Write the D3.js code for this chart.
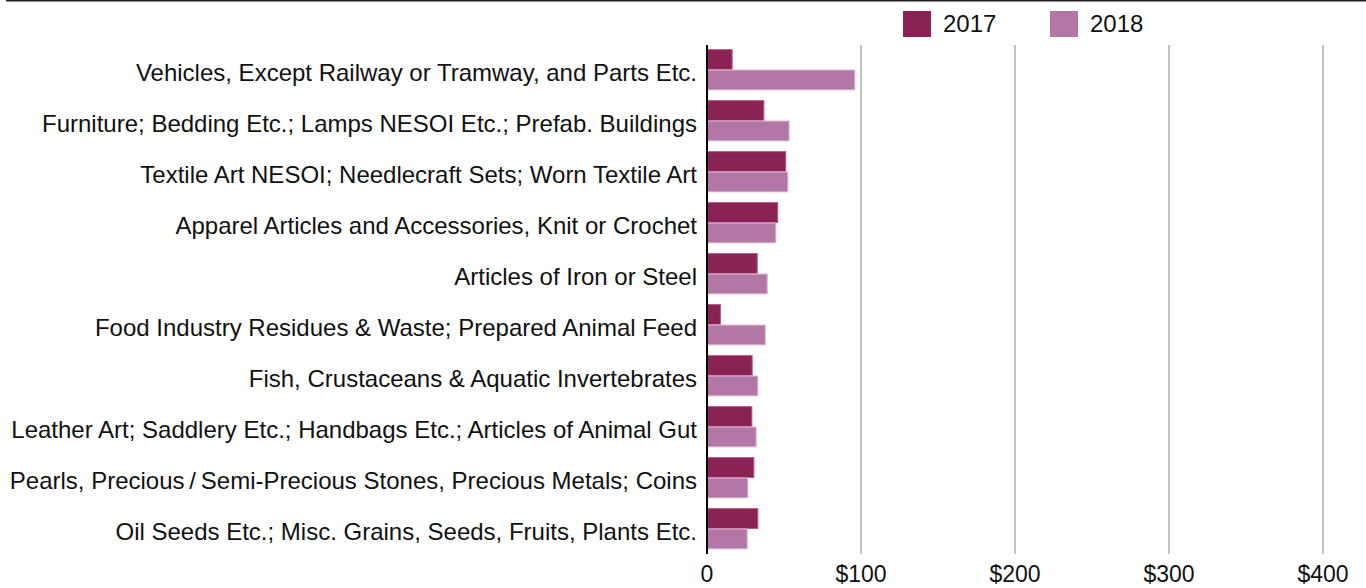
<!DOCTYPE html>
<html>
<head>
<meta charset="utf-8">
<script src="https://cdn.jsdelivr.net/npm/d3@7"></script>
<style>
  body { margin: 0; background: #fff; }
  svg { display: block; font-family: "Liberation Sans", Arial, sans-serif; }
</style>
</head>
<body>
<div id="chart"></div>
<script>
// categories, top to bottom
let categories = [
    "Vehicles, Except Railway or Tramway, and Parts Etc.",
    "Furniture; Bedding Etc.; Lamps NESOI Etc.; Prefab. Buildings",
    "Textile Art NESOI; Needlecraft Sets; Worn Textile Art",
    "Apparel Articles and Accessories, Knit or Crochet",
    "Articles of Iron or Steel",
    "Food Industry Residues & Waste; Prepared Animal Feed",
    "Fish, Crustaceans & Aquatic Invertebrates",
    "Leather Art; Saddlery Etc.; Handbags Etc.; Articles of Animal Gut",
    "Pearls, Precious\u2009/\u2009Semi-Precious Stones, Precious Metals; Coins",
    "Oil Seeds Etc.; Misc. Grains, Seeds, Fruits, Plants Etc."
];
let years = ["2017", "2018"];
let values2017 = [16, 36.6, 50.8, 45.6, 32.3, 8.4, 29.0, 28.8, 30.1, 32.7];
let values2018 = [95.7, 53.0, 52.2, 44.4, 38.8, 37.5, 32.7, 31.6, 26.2, 25.8];
let ticks = [0, 100, 200, 300, 400];

let width = 1366, height = 588;
let colors = {"2017": "#8a2253", "2018": "#b377a6"};
let strokes = {"2017": "#b45a86", "2018": "#e0bcd8"};

const svg = d3.select("#chart").append("svg")
    .attr("width", width)
    .attr("height", height);

let x = d3.scaleLinear()
    .domain([0, 400])
    .range([707, 1323]);

let y = d3.scaleBand()
    .domain(categories)
    .range([44, 554])
    .paddingInner(0.2)
    .paddingOuter(0.1);

let ySub = d3.scaleBand()
    .domain(years)
    .range([0, y.bandwidth()]);

// top rule
svg.append("line")
    .attr("x1", 6).attr("x2", width)
    .attr("y1", 0.5).attr("y2", 0.5)
    .attr("stroke", "#222")
    .attr("stroke-width", 2);

// gridlines
svg.append("g")
    .selectAll("line")
    .data(ticks.slice(1))
    .join("line")
    .attr("x1", d => x(d)).attr("x2", d => x(d))
    .attr("y1", 45).attr("y2", 554)
    .attr("stroke", "#c4c4c4")
    .attr("stroke-width", 2);

// bars
let rows = categories.map((c, i) => ({cat: c, vals: [
    {year: "2017", v: values2017[i]},
    {year: "2018", v: values2018[i]}
]}));

svg.append("g")
    .selectAll("g")
    .data(rows)
    .join("g")
    .attr("transform", d => `translate(0,${y(d.cat)})`)
    .selectAll("rect")
    .data(d => d.vals)
    .join("rect")
    .attr("x", x(0) + 0.5)
    .attr("y", d => ySub(d.year) + 0.5)
    .attr("width", d => x(d.v) - x(0))
    .attr("height", ySub.bandwidth() - 0.5)
    .attr("fill", d => colors[d.year])
    .attr("stroke", d => strokes[d.year])
    .attr("stroke-width", 1);

// category labels
svg.append("g")
    .selectAll("text")
    .data(categories)
    .join("text")
    .attr("x", 697)
    .attr("y", d => y(d) + y.bandwidth() / 2 + 3)
    .attr("dy", "0.35em")
    .attr("text-anchor", "end")
    .attr("font-size", 24)
    .attr("fill", "#111")
    .text(d => d);

// baseline
svg.append("line")
    .attr("x1", x(0)).attr("x2", x(0))
    .attr("y1", 45).attr("y2", 554)
    .attr("stroke", "#000")
    .attr("stroke-width", 2);

// x tick labels
svg.append("g")
    .selectAll("text")
    .data(ticks)
    .join("text")
    .attr("x", d => x(d))
    .attr("y", 574)
    .attr("dy", "0.35em")
    .attr("text-anchor", "middle")
    .attr("font-size", 23)
    .attr("fill", "#111")
    .text(d => d === 0 ? "0" : "$" + d);

// legend
let legendX = {"2017": 903, "2018": 1050};
let legend = svg.append("g")
    .selectAll("g")
    .data(years)
    .join("g")
    .attr("transform", d => `translate(${legendX[d]},11)`);
legend.append("rect")
    .attr("width", 28).attr("height", 26)
    .attr("fill", d => colors[d]);
legend.append("text")
    .attr("x", 40).attr("y", 13)
    .attr("dy", "0.35em")
    .attr("font-size", 24)
    .attr("fill", "#111")
    .text(d => d);
</script>
</body>
</html>
